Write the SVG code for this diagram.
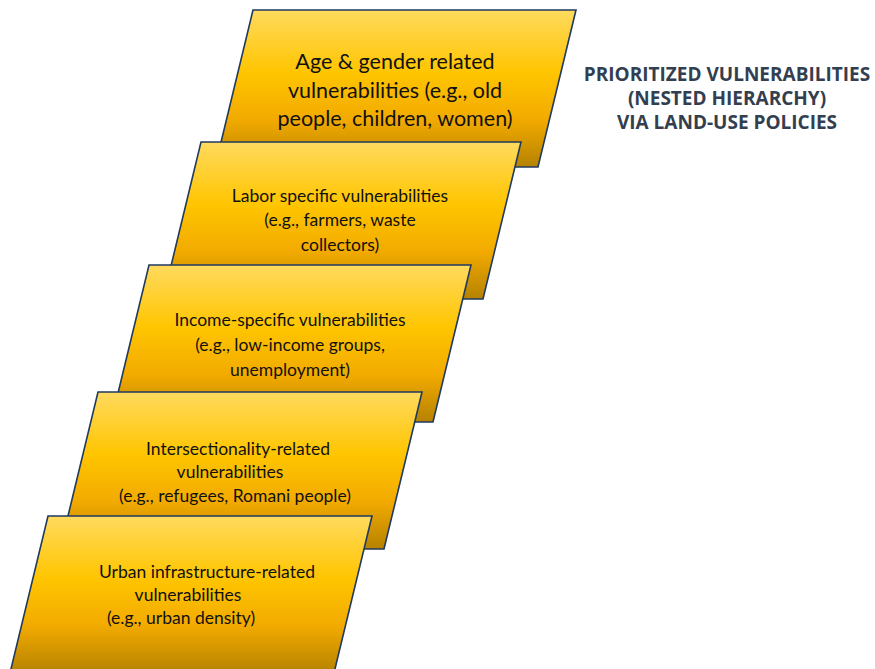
<svg xmlns="http://www.w3.org/2000/svg" width="875" height="669" viewBox="0 0 875 669">
  <defs>
    <linearGradient id="gold" x1="0" y1="0" x2="0" y2="1">
      <stop offset="0" stop-color="#FFDA5E"/>
      <stop offset="0.4" stop-color="#FFC500"/>
      <stop offset="0.7" stop-color="#F2AA00"/>
      <stop offset="1" stop-color="#B58200"/>
    </linearGradient>
  </defs>
  <style>
    .box { fill: url(#gold); stroke: #1F3A60; stroke-width: 1.6; stroke-linejoin: miter; }
    .lbl { font-family: Lato, "Open Sans", "Liberation Sans", sans-serif; fill: #111; text-anchor: middle; }
    .big { font-size: 21.5px; }
    .sm { font-size: 17.5px; }
    .title { font-family: "Open Sans", Lato, "Liberation Sans", sans-serif; font-weight: bold; font-size: 19px; fill: #333F50; text-anchor: middle; }
  </style>
  <rect width="875" height="669" fill="#FFFFFF"/>

  <!-- stacked parallelograms, back to front -->
  <g id="age-gender">
    <polygon class="box" points="253,10 576,10 538,167 215,167"/>
    <text class="lbl big" x="395" y="69">Age &amp; gender related</text>
    <text class="lbl big" x="395" y="98">vulnerabilities (e.g., old</text>
    <text class="lbl big" x="395" y="126">people, children, women)</text>
  </g>
  <g id="labor">
    <polygon class="box" points="201,142 521,142 483,299 163,299"/>
    <text class="lbl sm" x="340" y="202">Labor specific vulnerabilities</text>
    <text class="lbl sm" x="340" y="226">(e.g., farmers, waste</text>
    <text class="lbl sm" x="340" y="251">collectors)</text>
  </g>
  <g id="income">
    <polygon class="box" points="149,265 471,265 433,422 111,422"/>
    <text class="lbl sm" x="290" y="326">Income-specific vulnerabilities</text>
    <text class="lbl sm" x="290" y="351">(e.g., low-income groups,</text>
    <text class="lbl sm" x="290" y="376">unemployment)</text>
  </g>
  <g id="intersectionality">
    <polygon class="box" points="98,392 422,392 384,549 60,549"/>
    <text class="lbl sm" x="238" y="455">Intersectionality-related</text>
    <text class="lbl sm" x="230" y="478">vulnerabilities</text>
    <text class="lbl sm" x="235" y="502">(e.g., refugees, Romani people)</text>
  </g>
  <g id="urban">
    <polygon class="box" points="48,516 372,516 334,673 10,673"/>
    <text class="lbl sm" x="207" y="578">Urban infrastructure-related</text>
    <text class="lbl sm" x="188" y="601">vulnerabilities</text>
    <text class="lbl sm" x="181" y="624">(e.g., urban density)</text>
  </g>

  <g id="connectors"></g>

  <g id="heading">
    <text class="title" x="727" y="81">PRIORITIZED VULNERABILITIES</text>
    <text class="title" x="727" y="105">(NESTED HIERARCHY)</text>
    <text class="title" x="727" y="129">VIA LAND-USE POLICIES</text>
  </g>
</svg>
